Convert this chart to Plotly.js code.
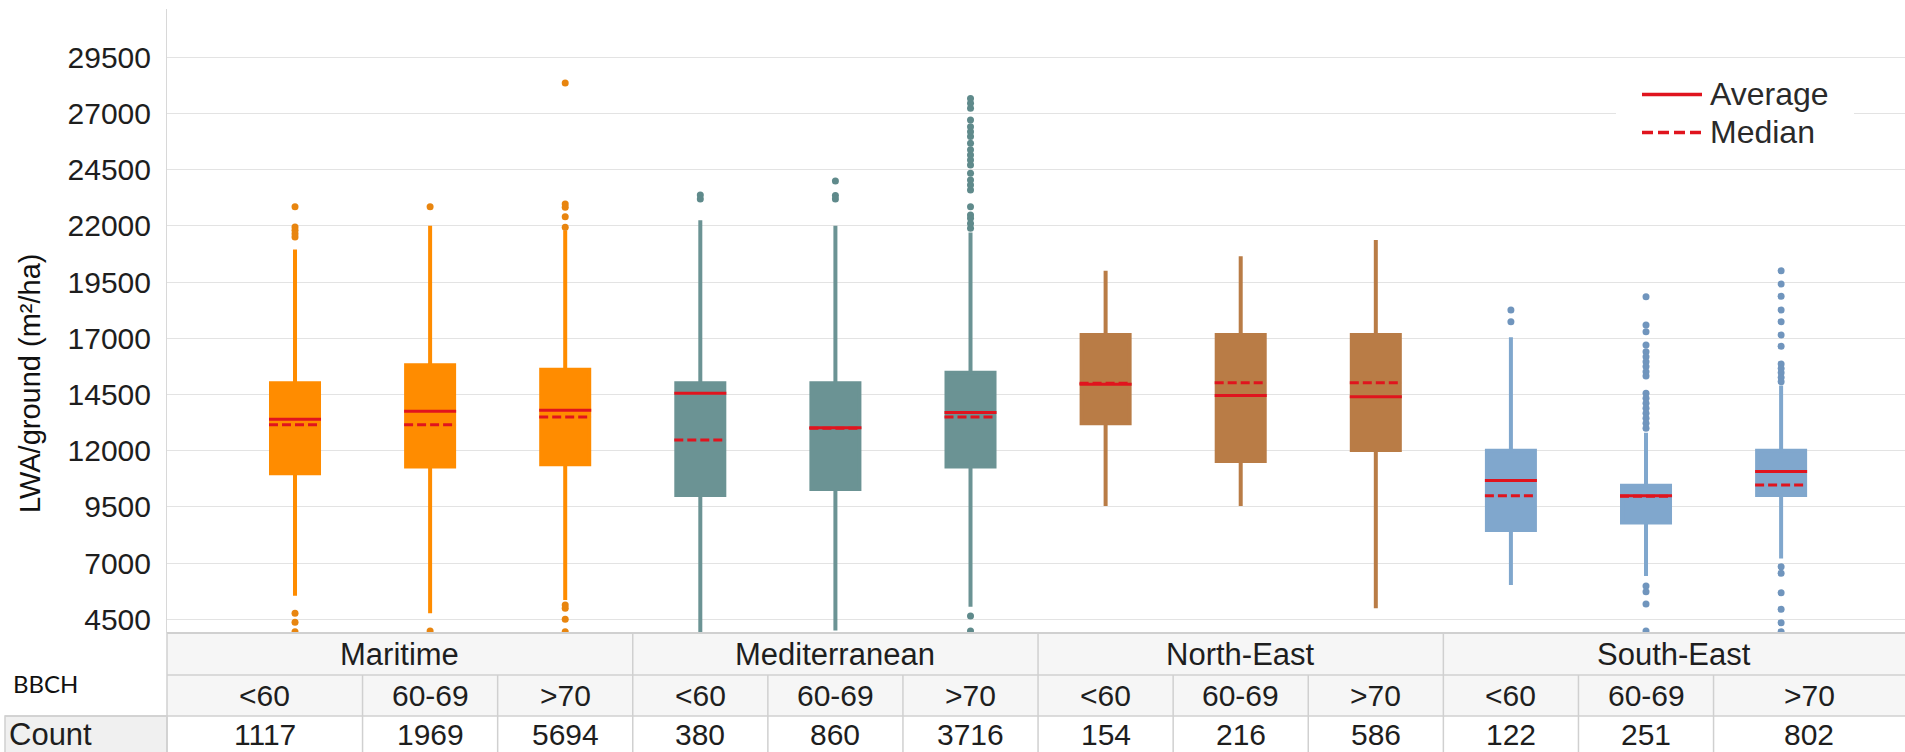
<!DOCTYPE html>
<html>
<head>
<meta charset="utf-8">
<script src="https://cdn.plot.ly/plotly-3.0.1.min.js"></script>
<style>
html, body { margin: 0; padding: 0; background: #ffffff; }
#chart { width: 1905px; height: 752px; }
</style>
</head>
<body>
<div id="chart"></div>
<script>
// ---------------- DATA ----------------
const regions = ['Maritime', 'Mediterranean', 'North-East', 'South-East'];
const bbchClasses = ['<60', '60-69', '>70'];
const counts = [1117, 1969, 5694, 380, 860, 3716, 154, 216, 586, 122, 251, 802];

// box statistics, one value per region x BBCH class (12 boxes)
const q1Values     = [11000, 11300, 11400, 10030, 10300, 11300, 13220, 11540, 12030, 8470, 8810, 10030];
const q3Values     = [15000, 15800, 15600, 15000, 15000, 15470, 17150, 17150, 17150, 12000, 10440, 12000];
const averages     = [13400, 13750, 13800, 14550, 13020, 13700, 14950, 14450, 14400, 10670, 10000, 11070];
const medians      = [13150, 13150, 13500, 12480, 13000, 13500, 15000, 15020, 15020, 10000, 9970, 10470];
const upperWhisker = [20950, 22000, 21800, 22250, 22000, 21700, 20000, 20650, 21370, 17050, 12800, 14900];
const lowerWhisker = [5550, 4770, 5360, 3600, 4000, 5060, 9540, 9540, 4990, 6030, 6430, 7210];

const outliers = [
  [22850, 21950, 21800, 21650, 21500, 4770, 4370, 3950],
  [22850, 3980],
  [28350, 22970, 22830, 22410, 21940, 5140, 4990, 4500, 3950],
  [23370, 23200],
  [24000, 23350, 23200],
  [21890, 22110, 22340, 22480, 22850, 23600, 23820, 24040, 24340, 24710, 24930, 25150,
   25380, 25670, 25970, 26190, 26410, 26710, 27230, 27450, 27670, 4650, 3980],
  [],
  [],
  [],
  [18260, 17740],
  [18850, 17590, 17290, 16700, 16400, 16180, 15960, 15740, 15510, 15320, 14550, 14330,
   14110, 13890, 13660, 13440, 13220, 13000, 5980, 5730, 5180, 3980],
  [20000, 19410, 18870, 18260, 17740, 17150, 16650, 15860, 15660, 15470, 15260, 15070,
   6840, 6550, 5680, 4950, 4350, 3950]
];

const yTickValues = [4500, 7000, 9500, 12000, 14500, 17000, 19500, 22000, 24500, 27000, 29500];
const yTickLabels = ['4500', '7000', '9500', '12000', '14500', '17000', '19500', '22000', '24500', '27000', '29500'];
const yTitle = 'LWA/ground (m²/ha)';
const legendLabels = ['Average', 'Median'];

// ---------------- STYLE ----------------
const regionColors = ['#ff8c00', '#6b9394', '#b97c46', '#80a7cd'];
const pointColors  = ['#e8850f', '#5f8a8b', '#a96e3c', '#7095bd'];
const red = '#e0141e';
const boxVisibleWidth = 0.385;          // in category units
const boxLineWidth = 4;
const slot = 135.1;                     // px per category
const boxWidth = boxVisibleWidth - boxLineWidth / slot;
const xMin = -0.9475, xMax = 11.917;
const yMin = 3891, yMax = 31646;
const ARIAL = '"Liberation Sans", Arial, Helvetica, sans-serif';
const LATO = 'Lato, "Liberation Sans", Arial, sans-serif';
const txt = '#1e1e1e';

// pixel -> paper helpers (layout only)
const PLOT_L = 167, PLOT_W = 1738, PLOT_T = 9, PLOT_H = 624;
const px = x => (x - PLOT_L) / PLOT_W;
const py = y => (PLOT_T + PLOT_H - y) / PLOT_H;
const ROW_TOP = 633, ROW1 = 675, ROW2 = 716, ROW_BOT = 752;

// ---------------- TRACES ----------------
const traces = [];
regions.forEach((reg, r) => {
  const idx = [3 * r, 3 * r + 1, 3 * r + 2];
  traces.push({
    type: 'box',
    name: reg,
    x: idx,
    q1: idx.map(i => q1Values[i]),
    median: idx.map(i => medians[i]),
    q3: idx.map(i => q3Values[i]),
    lowerfence: idx.map(i => lowerWhisker[i]),
    upperfence: idx.map(i => upperWhisker[i]),
    boxpoints: false,
    width: boxWidth,
    whiskerwidth: 0,
    line: { color: regionColors[r], width: boxLineWidth },
    fillcolor: regionColors[r],
    hoverinfo: 'skip',
    showlegend: false
  });
  const ox = [], oy = [];
  idx.forEach(i => outliers[i].forEach(v => { ox.push(i); oy.push(v); }));
  if (ox.length) {
    traces.push({
      type: 'scatter', mode: 'markers', x: ox, y: oy,
      marker: { color: pointColors[r], size: 7, line: { width: 0 } },
      hoverinfo: 'skip', showlegend: false, cliponaxis: true
    });
  }
});

function segs(vals) {
  const xs = [], ys = [];
  vals.forEach((v, i) => {
    xs.push(i - boxVisibleWidth / 2, i + boxVisibleWidth / 2, null);
    ys.push(v, v, null);
  });
  return { xs, ys };
}
const avgSeg = segs(averages);
const medSeg = segs(medians);
traces.push({
  type: 'scatter', mode: 'lines', name: legendLabels[0],
  x: avgSeg.xs, y: avgSeg.ys,
  line: { color: red, width: 3 }, hoverinfo: 'skip', showlegend: false
});
traces.push({
  type: 'scatter', mode: 'lines', name: legendLabels[1],
  x: medSeg.xs, y: medSeg.ys,
  line: { color: red, width: 3, dash: '9px,4px' }, hoverinfo: 'skip', showlegend: false
});

// ---------------- TABLE + LEGEND ----------------
const border = '#d0d0d0';
const shapes = [];
const annotations = [];

// header fills
shapes.push({ type: 'rect', xref: 'paper', yref: 'paper', x0: 0, x1: 1, y0: py(ROW2), y1: py(ROW_TOP),
  fillcolor: '#f6f6f6', line: { width: 0 }, layer: 'below' });
// count label cell
shapes.push({ type: 'rect', xref: 'paper', yref: 'paper', x0: px(5), x1: 0, y0: py(ROW_BOT + 2), y1: py(ROW2),
  fillcolor: '#f0f0f0', line: { color: border, width: 1.5 }, layer: 'below' });
// horizontal rules
[[ROW_TOP, 0, 2], [ROW1, 0, 1.5], [ROW2, px(5), 1.5]].forEach(([y, x0, w]) => {
  shapes.push({ type: 'line', xref: 'paper', yref: 'paper', x0: x0, x1: 1, y0: py(y), y1: py(y),
    line: { color: border, width: w } });
});
// left table edge
shapes.push({ type: 'line', xref: 'paper', yref: 'paper', x0: 0, x1: 0, y0: py(ROW_BOT), y1: py(ROW_TOP),
  line: { color: border, width: 1.5 } });
// column separators
for (let i = 0; i < counts.length - 1; i++) {
  const regionEdge = (i % 3) === 2;
  shapes.push({ type: 'line', xref: 'x', yref: 'paper', x0: i + 0.5, x1: i + 0.5,
    y0: py(ROW_BOT), y1: py(regionEdge ? ROW_TOP : ROW1), line: { color: border, width: 1.5 } });
}

// cell edges in category units
const edges = [xMin];
for (let i = 0; i < counts.length - 1; i++) edges.push(i + 0.5);
edges.push(xMax);

regions.forEach((reg, r) => {
  annotations.push({ text: reg, xref: 'x', yref: 'paper',
    x: (edges[3 * r] + edges[3 * r + 3]) / 2, y: py((ROW_TOP + ROW1) / 2),
    xanchor: 'center', yanchor: 'middle', showarrow: false,
    font: { family: ARIAL, size: 31, color: txt } });
});
counts.forEach((c, i) => {
  const cx = (edges[i] + edges[i + 1]) / 2;
  annotations.push({ text: bbchClasses[i % 3], xref: 'x', yref: 'paper', x: cx, y: py((ROW1 + ROW2) / 2),
    xanchor: 'center', yanchor: 'middle', showarrow: false,
    font: { family: ARIAL, size: 30, color: txt } });
  annotations.push({ text: String(c), xref: 'x', yref: 'paper', x: cx, y: py(734),
    xanchor: 'center', yanchor: 'middle', showarrow: false,
    font: { family: ARIAL, size: 30, color: txt } });
});
annotations.push({ text: 'BBCH', xref: 'paper', yref: 'paper', x: px(11), y: py(683),
  xanchor: 'left', yanchor: 'middle', showarrow: false, font: { family: LATO, size: 24, color: '#111' } });
annotations.push({ text: 'Count', xref: 'paper', yref: 'paper', x: px(7), y: py(734),
  xanchor: 'left', yanchor: 'middle', showarrow: false, font: { family: ARIAL, size: 31, color: txt } });

// y-axis title
annotations.push({ text: yTitle, xref: 'paper', yref: 'paper', x: px(30), y: py(384),
  xanchor: 'center', yanchor: 'middle', textangle: -90, showarrow: false,
  font: { family: ARIAL, size: 29, color: '#111' } });

// legend
shapes.push({ type: 'rect', xref: 'paper', yref: 'paper', x0: px(1616), x1: px(1854), y0: py(152), y1: py(76),
  fillcolor: '#ffffff', line: { width: 0 }, layer: 'above' });
shapes.push({ type: 'line', xref: 'paper', yref: 'paper', x0: px(1642), x1: px(1702), y0: py(94.5), y1: py(94.5),
  line: { color: red, width: 3.5 } });
shapes.push({ type: 'line', xref: 'paper', yref: 'paper', x0: px(1642), x1: px(1702), y0: py(132.5), y1: py(132.5),
  line: { color: red, width: 3.5, dash: '11px,5px' } });
legendLabels.forEach((lab, k) => {
  annotations.push({ text: lab, xref: 'paper', yref: 'paper', x: px(1708), y: py(k === 0 ? 94.5 : 132.5),
    xanchor: 'left', yanchor: 'middle', showarrow: false,
    font: { family: ARIAL, size: 32, color: '#2a2a2a' } });
});

// ---------------- LAYOUT ----------------
const layout = {
  width: 1905, height: 752, autosize: false,
  margin: { l: PLOT_L, r: 0, t: PLOT_T, b: 752 - PLOT_T - PLOT_H, pad: 0 },
  paper_bgcolor: '#ffffff', plot_bgcolor: '#ffffff',
  showlegend: false, hovermode: false,
  font: { family: ARIAL, color: txt },
  xaxis: { range: [xMin, xMax], showgrid: false, zeroline: false, showticklabels: false,
    ticks: '', showline: false, fixedrange: true },
  yaxis: { range: [yMin, yMax], tickmode: 'array', tickvals: yTickValues, ticktext: yTickLabels,
    showgrid: true, gridcolor: '#e3e3e3', gridwidth: 1, zeroline: false,
    showline: true, linecolor: '#d8d8d8', linewidth: 1, ticks: '', ticklabelstandoff: 9,
    tickfont: { family: ARIAL, size: 30, color: txt }, fixedrange: true },
  shapes: shapes,
  annotations: annotations
};

Plotly.newPlot('chart', traces, layout, { displayModeBar: false, staticPlot: true });
</script>
</body>
</html>
